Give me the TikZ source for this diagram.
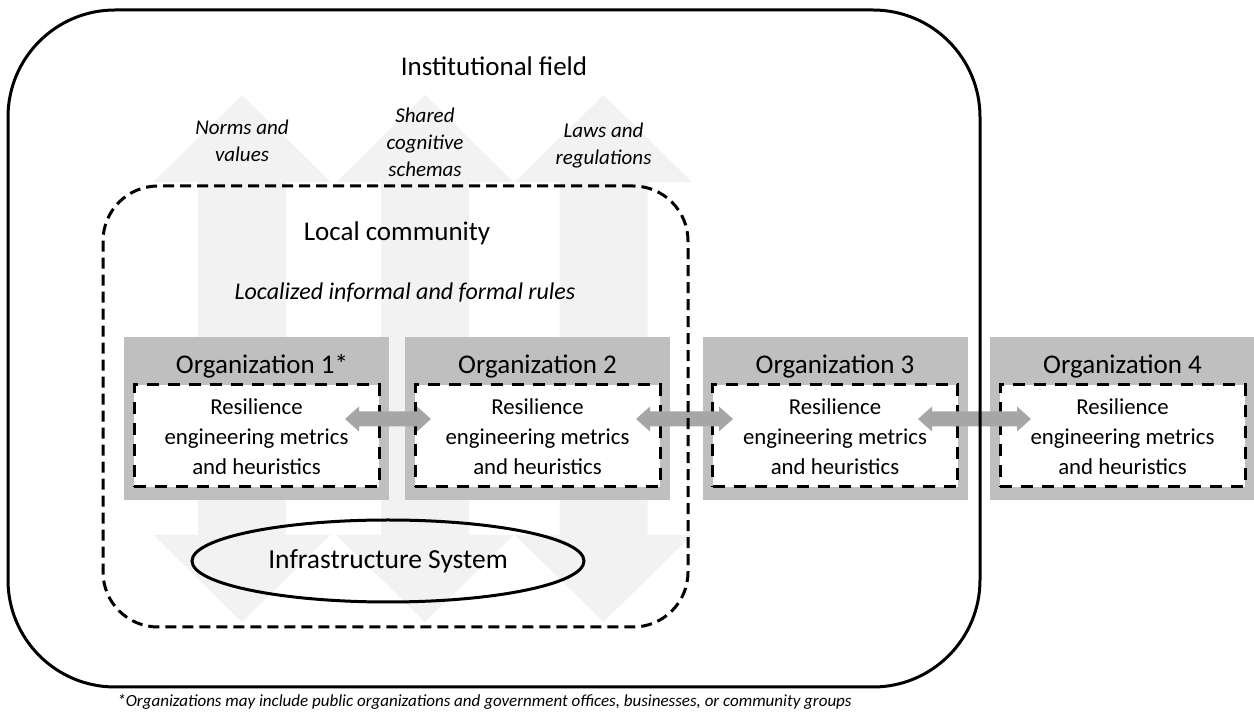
\documentclass[tikz,border=0pt]{standalone}
\usepackage{fontspec}
\setmainfont{Carlito}
\usetikzlibrary{shapes.geometric}
\definecolor{arrowlight}{RGB}{242,242,242}
\definecolor{orggray}{RGB}{191,191,191}
\definecolor{linkgray}{RGB}{166,166,166}
\begin{document}
\begin{tikzpicture}[x=0.5pt,y=-0.5pt,
  title/.style={font=\fontsize{13.5}{16}\selectfont, anchor=base, inner sep=0},
  lbl/.style={font=\fontsize{10.5}{13}\selectfont\itshape, anchor=base, inner sep=0},
  rules/.style={font=\fontsize{12}{14}\selectfont\itshape, anchor=base, inner sep=0},
  body/.style={font=\fontsize{11.4}{14}\selectfont, anchor=base, inner sep=0},
  orgbox/.style={fill=orggray, draw=none, minimum width=132.5pt, minimum height=81.5pt, inner sep=0},
  rebox/.style={fill=white, draw=black, line width=1.5pt, dash pattern=on 6pt off 4.5pt, minimum width=122.5pt, minimum height=51pt, inner sep=0},
  container/.style={draw=black, line width=1.5pt, inner sep=0},
  link/.style={fill=linkgray, draw=none}
]
\useasboundingbox (0,0) rectangle (1254,715);
\fill[white] (0,0) rectangle (1254,715);

% light vertical double arrows
\foreach \c in {242,425,603.5}{
  \fill[arrowlight] (\c,95) -- (\c+88.5,182) -- (\c+44,182) -- (\c+44,535) -- (\c+88.5,535) -- (\c,622)
    -- (\c-88.5,535) -- (\c-44,535) -- (\c-44,182) -- (\c-88.5,182) -- cycle;
}

% labels
\node[title] (instlbl) at (494,76) {Institutional field};
\node[lbl] (norms1) at (242,135) {Norms and};
\node[lbl] (norms2) at (242,162) {values};
\node[lbl] (shared1) at (425,123) {Shared};
\node[lbl] (shared2) at (425,150) {cognitive};
\node[lbl] (shared3) at (425,177) {schemas};
\node[lbl] (laws1) at (603.5,138) {Laws and};
\node[lbl] (laws2) at (603.5,165) {regulations};
\node[title] (locallbl) at (397,241) {Local community};
\node[rules] (rulelbl) at (405,300) {Localized informal and formal rules};

% organizations
\foreach \i/\cx in {1/256.5,2/537.5,3/835,4/1122.5}{
  \node[orgbox] (org\i) at (\cx,418.5) {};
  \node[rebox] (re\i) at (\cx,436) {};
  \node[body] (re\i a) at (\cx,415) {Resilience};
  \node[body] (re\i b) at (\cx,445) {engineering metrics};
  \node[body] (re\i c) at (\cx,475) {and heuristics};
}
\node[title] (org1lbl) at (262,374) {Organization 1*};
\node[title] (org2lbl) at (537.5,374) {Organization 2};
\node[title] (org3lbl) at (835,374) {Organization 3};
\node[title] (org4lbl) at (1122.5,374) {Organization 4};

% links between organizations
\foreach \a/\b in {345/431,636/733,918/1031}{
  \fill[link] (\a,419) -- (\a+14,406.5) -- (\a+14,411.5) -- (\b-14,411.5) -- (\b-14,406.5) -- (\b,419)
    -- (\b-14,431.5) -- (\b-14,426.5) -- (\a+14,426.5) -- (\a+14,431.5) -- cycle;
}

% infrastructure
\node[ellipse, draw=black, line width=1.5pt, minimum width=196pt, minimum height=41pt, inner sep=0,
  font=\fontsize{13.75}{16}\selectfont] (infra) at (388,561) {Infrastructure System};

% containers
\node[container, dash pattern=on 5.5pt off 3pt, rounded corners=27.5pt, minimum width=292.5pt, minimum height=220.5pt] (local) at (395.5,406.5) {};
\node[container, rounded corners=53.5pt, minimum width=486pt, minimum height=338.5pt] (inst) at (494,348.5) {};

% footnote
\node[font=\fontsize{8.5}{10}\selectfont\itshape, anchor=base west, inner sep=0] (note) at (117,707)
  {*Organizations may include public organizations and government offices, businesses, or community groups};
\end{tikzpicture}
\end{document}
